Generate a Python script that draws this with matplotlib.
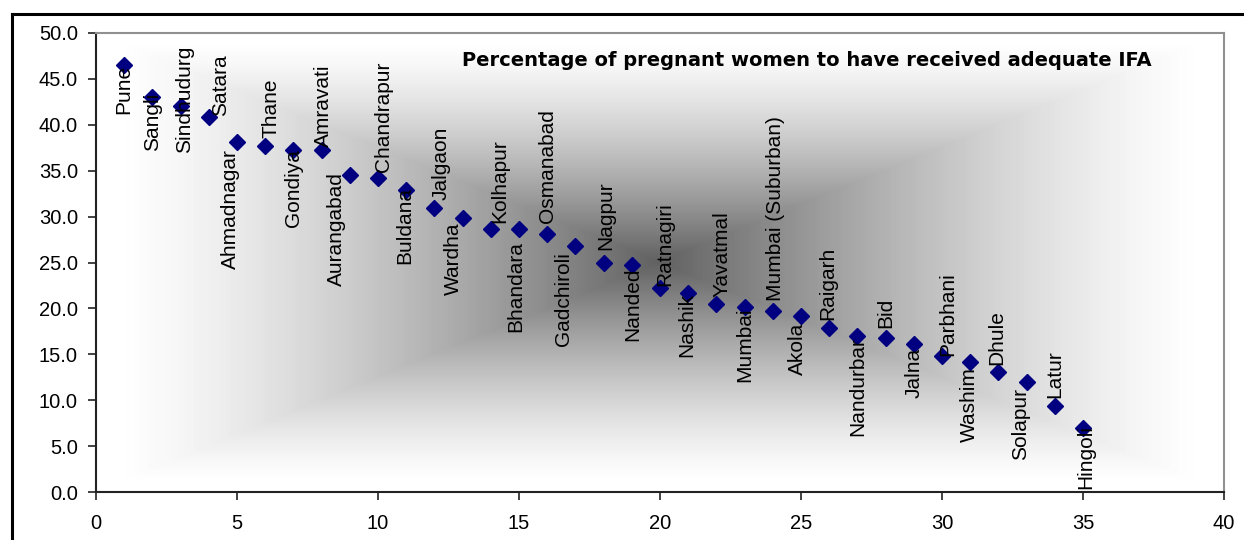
import numpy as np
import matplotlib
matplotlib.use("Agg")
import matplotlib.pyplot as plt
from matplotlib.lines import Line2D

plt.rcParams['font.family'] = ['Liberation Sans', 'DejaVu Sans']

# districts ranked by share of pregnant women receiving adequate IFA
districts = ['Pune', 'Sangli', 'Sindhudurg', 'Satara', 'Ahmadnagar', 'Thane',
             'Gondiya', 'Amravati', 'Aurangabad', 'Chandrapur', 'Buldana',
             'Jalgaon', 'Wardha', 'Kolhapur', 'Bhandara', 'Osmanabad',
             'Gadchiroli', 'Nagpur', 'Nanded', 'Ratnagiri', 'Nashik',
             'Yavatmal', 'Mumbai', 'Mumbai (Suburban)', 'Akola', 'Raigarh',
             'Nandurbar', 'Bid', 'Jalna', 'Parbhani', 'Washim', 'Dhule',
             'Solapur', 'Latur', 'Hingoli']
rank = list(range(1, 36))
pct = [46.5, 43.0, 42.1, 40.8, 38.1, 37.7, 37.3, 37.3, 34.5, 34.2, 32.9,
       30.9, 29.8, 28.7, 28.6, 28.1, 26.8, 25.0, 24.7, 22.2, 21.7,
       20.5, 20.1, 19.7, 19.2, 17.9, 17.0, 16.8, 16.1, 14.8, 14.2, 13.1,
       12.0, 9.4, 7.0]

# label placement: (dx px, dy px, vertical anchor)
label_pos = [(0, 0, 'top'), (0, 5, 'top'), (4, 6, 'center'), (12, 1, 'bottom'),
             (-7, -7, 'top'), (6, 8, 'bottom'), (0, 0, 'top'), (2, 3, 'bottom'),
             (-13, 3, 'top'), (5, 6, 'bottom'), (-1, 3, 'top'), (7, 8, 'bottom'),
             (-9, -4, 'top'), (9, 6, 'bottom'), (-3, -12, 'top'), (0, 11, 'bottom'),
             (-12, -6, 'top'), (2, 12, 'bottom'), (1, -2, 'top'), (5, 2, 'bottom'),
             (-1, 0, 'top'), (6, 7, 'bottom'), (0, 0, 'top'), (3, 10, 'bottom'),
             (-4, -7, 'top'), (-1, 8, 'bottom'), (0, -1, 'top'), (0, 10, 'bottom'),
             (0, -4, 'top'), (6, 0, 'bottom'), (-1, -5, 'top'), (-2, 7, 'bottom'),
             (-6, -6, 'top'), (0, 8, 'bottom'), (3, 3, 'top')]

fig = plt.figure(figsize=(12.44, 5.4), dpi=100)
ax = fig.add_axes([96 / 1244, 48 / 540, 1128 / 1244, 459 / 540])

# rectangular "from centre" grey fill, dark in the middle, white at the edges
gx = np.linspace(-1, 1, 1128)
gy = np.linspace(-1, 1, 459)
X, Y = np.meshgrid(gx, gy)
t = np.minimum(np.maximum(np.abs(X), np.abs(Y)) / 0.97, 1)
shade = 1 - 0.62 * (1 - t) ** 1.35
ax.imshow(shade, cmap='gray', vmin=0, vmax=1, extent=(0, 40, 0, 50),
          aspect='auto', interpolation='bilinear', zorder=0)

ax.plot(rank, pct, linestyle='none', marker='D', markersize=8.5,
        color='#000080', zorder=3)

for xi, yi, name, (dx, dy, va) in zip(rank, pct, districts, label_pos):
    ax.annotate(name, xy=(xi, yi), xytext=(dx, dy), textcoords='offset pixels',
                rotation=90, ha='center', va=va, fontsize=15, color='black',
                zorder=4)

ax.text(0.630, 0.941, 'Percentage of pregnant women to have received adequate IFA',
        transform=ax.transAxes, ha='center', va='center', fontsize=14,
        fontweight='bold', family='DejaVu Sans')

ax.set_xlim(0, 40)
ax.set_ylim(0, 50)
ax.set_xticks(range(0, 41, 5))
ax.set_yticks(np.arange(0, 50.1, 5))
ax.set_yticklabels(['%.1f' % v for v in np.arange(0, 50.1, 5)])
ax.tick_params(labelsize=14.5, length=6, width=1.2, direction='out', color='#222222')
ax.tick_params(axis='x', pad=10)
ax.tick_params(axis='y', pad=7)

for side in ['left', 'bottom']:
    ax.spines[side].set_color('#222222')
    ax.spines[side].set_linewidth(1.5)
for side in ['top', 'right']:
    ax.spines[side].set_color('#909090')
    ax.spines[side].set_linewidth(1.5)

# outer chart frame
fig.add_artist(Line2D([12 / 1244, 1.0], [1 - 14 / 540, 1 - 14 / 540],
                      color='black', linewidth=2.2, transform=fig.transFigure))
fig.add_artist(Line2D([12 / 1244, 12 / 1244], [0, 1 - 14 / 540],
                      color='black', linewidth=2.2, transform=fig.transFigure))

fig.savefig('out.png', dpi=100)
